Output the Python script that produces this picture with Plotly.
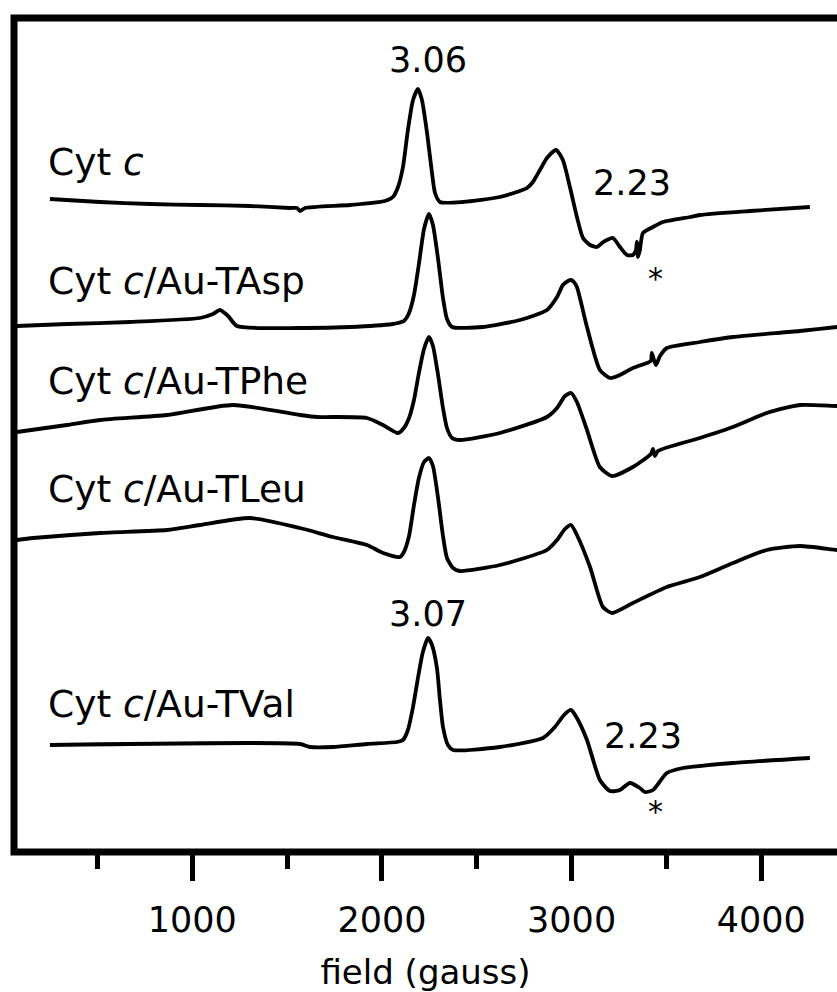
import plotly.graph_objects as go

# EPR spectra of cytochrome c, free and adsorbed on gold nanoparticles
# field in gauss, signal in arbitrary units (first-derivative spectra)

cyt_field = [250, 514, 777, 1041, 1305, 1515, 1552, 1568, 1595, 1832, 2016, 2058, 2085, 2111,
             2137, 2164, 2190, 2211, 2238, 2264, 2280, 2306, 2427, 2622, 2765, 2796, 2833,
             2870, 2918, 2954, 2991, 3028, 3060, 3097, 3134, 3160, 3186, 3218, 3255, 3292,
             3323, 3339, 3344, 3350, 3360, 3376, 3429, 3481, 3624, 3676, 3940, 4256]
cyt_signal = [1, -2, -4, -5, -6, -8, -8, -11, -8, -5, -1, 3, 13, 33,
              70, 100, 111, 100, 67, 27, 7, -2, -2, 3, 12, 18, 30,
              42, 50, 40, 13, -17, -38, -45, -47, -43, -40, -38, -47, -55,
              -55, -50, -42, -57, -50, -33, -27, -22, -17, -15, -11, -7]

asp_field = [76, 340, 672, 1041, 1109, 1146, 1189, 1236, 1568, 1832, 2058, 2085, 2116, 2143,
             2169, 2195, 2222, 2248, 2269, 2296, 2322, 2343, 2370, 2533, 2728, 2870, 2923,
             2954, 2981, 2997, 3012, 3028, 3081, 3149, 3202, 3255, 3323, 3397, 3418, 3423,
             3444, 3466, 3502, 3676, 3850, 4203, 4399, 4467]
asp_signal = [0, 2, 4, 8, 12, 16, 10, 0, -2, -1, 2, 3, 5, 13,
              31, 62, 97, 112, 101, 67, 28, 7, -1, -1, 6, 16, 29,
              41, 45, 46, 44, 39, -1, -44, -52, -49, -42, -37, -35, -27,
              -39, -30, -22, -16, -11, -5, -1, 0]

phe_field = [76, 340, 514, 867, 1215, 1568, 1658, 1742, 1921, 2006, 2085, 2116, 2143, 2169,
             2195, 2222, 2248, 2269, 2296, 2322, 2343, 2370, 2411, 2622, 2870, 2923, 2965,
             2997, 3028, 3081, 3149, 3213, 3323, 3418, 3429, 3439, 3455, 3676, 3850, 4029,
             4203, 4399, 4467]
phe_signal = [-2, 5, 10, 15, 25, 15, 13, 13, 12, 5, -3, 2, 12, 30,
              57, 81, 93, 84, 55, 22, 2, -8, -10, -3, 13, 22, 34,
              37, 28, 0, -37, -46, -37, -24, -19, -26, -21, -8, 3, 17,
              25, 24, 24]

leu_field = [76, 161, 514, 867, 1041, 1305, 1568, 1742, 1921, 2006, 2095, 2116, 2143, 2169,
             2195, 2222, 2248, 2269, 2296, 2322, 2343, 2375, 2411, 2622, 2870, 2923, 2965,
             2997, 3028, 3097, 3165, 3213, 3323, 3502, 3676, 3850, 4029, 4203, 4399, 4467]
leu_signal = [0, 2, 7, 10, 15, 22, 12, 3, -5, -13, -17, -12, 4, 35,
              62, 78, 82, 74, 42, 4, -18, -28, -31, -25, -10, 0, 11,
              15, 5, -27, -67, -73, -63, -47, -37, -23, -10, -6, -10, -11]

val_field = [250, 1568, 1621, 1742, 1921, 2080, 2111, 2137, 2164, 2190, 2216, 2243, 2264,
             2290, 2306, 2322, 2348, 2375, 2622, 2849, 2912, 2960, 2997, 3028, 3081, 3149,
             3202, 3255, 3307, 3360, 3386, 3429, 3502, 3587, 3850, 4256]
val_signal = [0, 1, -2, -2, 1, 3, 5, 15, 38, 67, 93, 107, 100,
              77, 45, 18, 0, -5, -2, 7, 18, 30, 35, 27, 5, -35,
              -46, -45, -38, -43, -47, -45, -28, -23, -18, -13]

sample_names = ["Cyt <i>c</i>", "Cyt <i>c</i>/Au-TAsp", "Cyt <i>c</i>/Au-TPhe",
                "Cyt <i>c</i>/Au-TLeu", "Cyt <i>c</i>/Au-TVal"]
stack_offsets = [652, 526, 422, 312, 107]
label_heights = [690, 571, 471, 363, 148]

g_labels = ["3.06", "2.23", "*", "3.07", "2.23", "*"]
g_label_field = [2243, 3318, 3444, 2245, 3376, 3444]
g_label_height = [792, 669, 574, 238, 116, 41]

major_ticks = [1000, 2000, 3000, 4000]
minor_ticks = [500, 1500, 2500, 3500]
FIELD_RANGE = [60.6, 4399]

FONT = "DejaVu Sans"
spectra = [(cyt_field, cyt_signal), (asp_field, asp_signal), (phe_field, phe_signal),
           (leu_field, leu_signal), (val_field, val_signal)]

fig = go.Figure()
for (fx, sy), off, name in zip(spectra, stack_offsets, sample_names):
    fig.add_trace(go.Scatter(
        x=fx, y=[v + off for v in sy], mode="lines", name=name,
        line=dict(color="black", width=3.8, shape="spline", smoothing=0.6),
        showlegend=False, hoverinfo="skip"))

# empty trace so the half-step tick axis is rendered
fig.add_trace(go.Scatter(x=[], y=[], xaxis="x2", yaxis="y", mode="lines",
                         showlegend=False, hoverinfo="skip"))

for name, h in zip(sample_names, label_heights):
    fig.add_annotation(x=230, y=h, text=name, showarrow=False, xanchor="left",
                       yanchor="middle", font=dict(family=FONT, size=37.5, color="black"))

for t, fx, h in zip(g_labels, g_label_field, g_label_height):
    fig.add_annotation(x=fx, y=h, text=t, showarrow=False, xanchor="center",
                       yanchor="middle", font=dict(family=FONT, size=35 if t != "*" else 30,
                                                   color="black"))

# frame: left, top and bottom sides
fig.add_shape(type="path", xref="paper", yref="paper",
              path="M 1.05 1 L 0 1 L 0 0 L 1.05 0",
              line=dict(color="black", width=7))

fig.update_layout(
    width=837, height=992,
    margin=dict(l=14, r=0, t=18, b=140, autoexpand=False),
    plot_bgcolor="white", paper_bgcolor="white",
    font=dict(family=FONT, color="black"),
    xaxis=dict(range=FIELD_RANGE, showgrid=False, zeroline=False, showline=False,
               automargin=False,
               tickmode="array", tickvals=major_ticks,
               ticktext=[str(v) for v in major_ticks],
               ticks="outside", ticklen=28, tickwidth=5, tickcolor="black",
               ticklabelstandoff=9,
               tickfont=dict(family=FONT, size=35, color="black"),
               title=dict(text="field (gauss)", font=dict(family=FONT, size=34, color="black"),
                          standoff=32)),
    # second bottom axis carrying the shorter half-step ticks
    xaxis2=dict(range=FIELD_RANGE, overlaying="x", side="bottom", anchor="y",
                showgrid=False, zeroline=False, showline=False, automargin=False,
                tickmode="array", tickvals=minor_ticks, showticklabels=False,
                ticks="outside", ticklen=16, tickwidth=5, tickcolor="black"),
    yaxis=dict(range=[0, 834], visible=False, showgrid=False, zeroline=False),
)

fig.write_html("out.html")
